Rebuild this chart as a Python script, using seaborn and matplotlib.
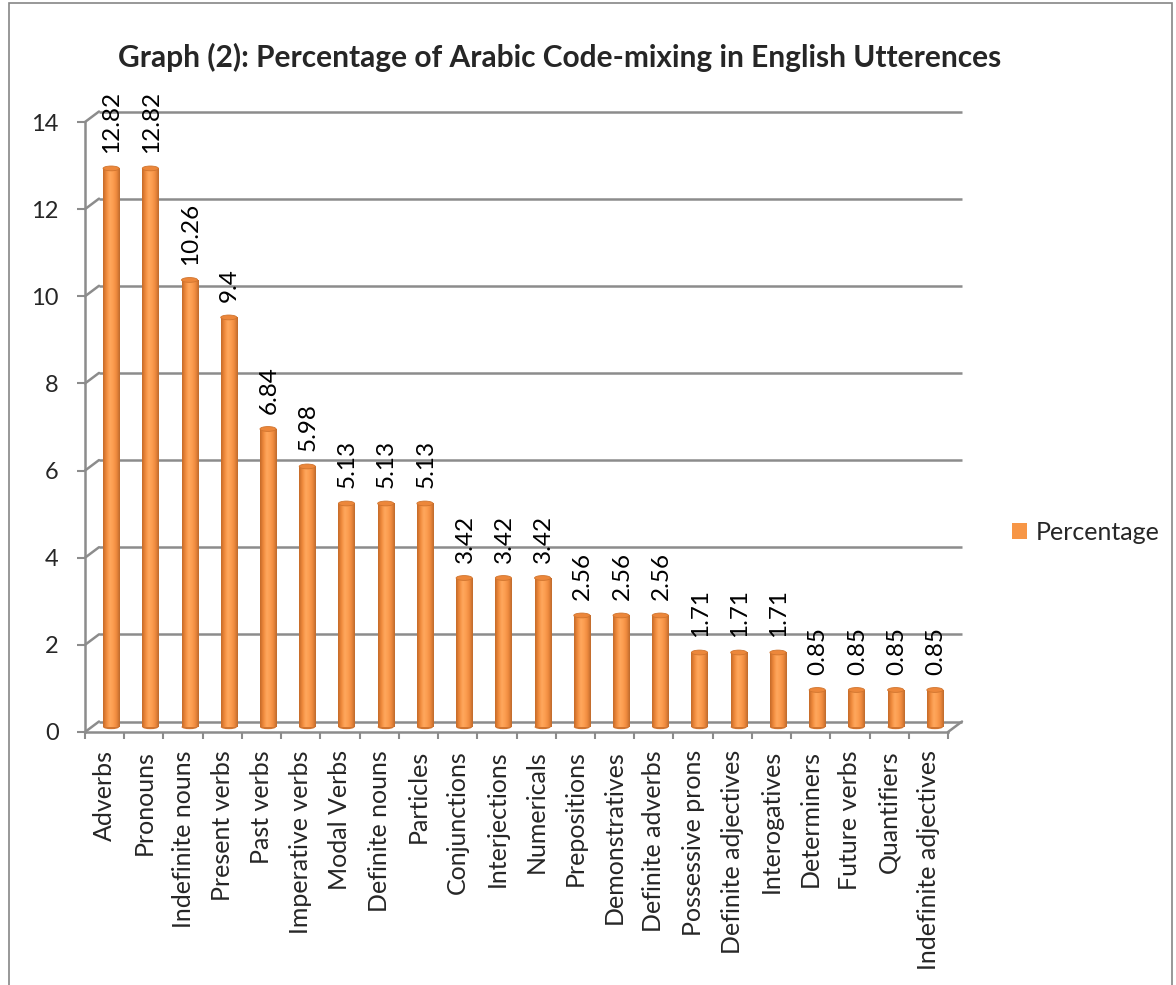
import matplotlib
matplotlib.use("Agg")
import matplotlib.pyplot as plt
import seaborn as sns
import numpy as np
import pandas as pd
from matplotlib.patches import Rectangle, Ellipse
from matplotlib.colors import LinearSegmentedColormap
from matplotlib.transforms import ScaledTranslation

categories = ["Adverbs", "Pronouns", "Indefinite nouns", "Present verbs", "Past verbs",
              "Imperative verbs", "Modal Verbs", "Definite nouns", "Particles", "Conjunctions",
              "Interjections", "Numericals", "Prepositions", "Demonstratives", "Definite adverbs",
              "Possessive prons", "Definite adjectives", "Interogatives", "Determiners",
              "Future verbs", "Quantifiers", "Indefinite adjectives"]
values = [12.82, 12.82, 10.26, 9.4, 6.84, 5.98, 5.13, 5.13, 5.13, 3.42, 3.42, 3.42,
          2.56, 2.56, 2.56, 1.71, 1.71, 1.71, 0.85, 0.85, 0.85, 0.85]
value_labels = ["12.82", "12.82", "10.26", "9.4", "6.84", "5.98", "5.13", "5.13", "5.13",
                "3.42", "3.42", "3.42", "2.56", "2.56", "2.56", "1.71", "1.71", "1.71",
                "0.85", "0.85", "0.85", "0.85"]
yticks = [0, 2, 4, 6, 8, 10, 12, 14]
series_name = "Percentage"
title = "Graph (2): Percentage of Arabic Code-mixing in English Utterences"

sns.set_theme(style="white")
plt.rcParams['font.family'] = ['Lato', 'DejaVu Sans']

df = pd.DataFrame({"cat": categories, "val": values})

DPI = 100
fig = plt.figure(figsize=(11.76, 9.85), dpi=DPI)
ax = fig.add_axes([85 / 1176, 1 - 732 / 985, 863 / 1176, 610 / 985])

grid_c = "#8C8C8C"
orange = "#F79646"
sns.barplot(data=df, x="cat", y="val", color=orange, width=0.41, ax=ax,
            saturation=1, label=series_name, linewidth=0, zorder=3)

# 3D depth offsets (pixels)
bar_off = ScaledTranslation(6.5 / DPI, 5 / DPI, fig.dpi_scale_trans)
wall_off = ScaledTranslation(14 / DPI, 10.5 / DPI, fig.dpi_scale_trans)

# cylinder-like shading
cmap = LinearSegmentedColormap.from_list(
    "cyl", ["#C46A28", "#F08A3C", "#FFA85E", "#FC9D50", "#EE8A3E", "#BE6A2C"])
grad = np.linspace(0, 1, 64).reshape(1, -1)
for p in list(ax.patches):
    x0, y0 = p.get_x(), p.get_y()
    w, h = p.get_width(), p.get_height()
    p.set_transform(ax.transData + bar_off)
    im = ax.imshow(grad, cmap=cmap, aspect="auto", extent=[x0, x0 + w, y0, y0 + h],
                   zorder=3.5, interpolation="bicubic")
    im.set_transform(ax.transData + bar_off)
    im.set_clip_path(p)
    cap = Ellipse((x0 + w / 2, y0 + h), w, 0.11, facecolor="#EC873B",
                  edgecolor="#D0742E", lw=0.6, zorder=4)
    cap.set_transform(ax.transData + bar_off)
    ax.add_patch(cap)
    base = Ellipse((x0 + w / 2, y0), w, 0.1, facecolor="#D07430", lw=0, zorder=3.4)
    base.set_transform(ax.transData + bar_off)
    ax.add_patch(base)

ax.set_xlim(-0.5, len(categories) - 0.5)
ax.set_ylim(0, 14)
ax.set_yticks(yticks)
ax.set_yticklabels([str(t) for t in yticks], fontsize=17)
ax.set_xticks(range(len(categories)))
ax.set_xticklabels(categories, rotation=90, fontsize=18)
ax.set_xlabel("")
ax.set_ylabel("")

# back-wall gridlines and connectors
for t in yticks:
    ax.plot([0, 1], [t, t], color=grid_c, lw=1.8, zorder=1, clip_on=False,
            solid_capstyle="butt", transform=ax.get_yaxis_transform() + wall_off)
    ax.annotate("", xy=(0, t), xycoords=ax.get_yaxis_transform(),
                xytext=(14 * 72 / DPI, 10.5 * 72 / DPI), textcoords="offset points",
                arrowprops=dict(arrowstyle="-", color=grid_c, lw=1.8,
                                shrinkA=0, shrinkB=0), zorder=1)
ax.annotate("", xy=(1, 0), xycoords=ax.get_yaxis_transform(),
            xytext=(14 * 72 / DPI, 10.5 * 72 / DPI), textcoords="offset points",
            arrowprops=dict(arrowstyle="-", color=grid_c, lw=1.8, shrinkA=0, shrinkB=0),
            zorder=1)

for sp in ["top", "right"]:
    ax.spines[sp].set_visible(False)
for sp in ["left", "bottom"]:
    ax.spines[sp].set_color(grid_c)
    ax.spines[sp].set_linewidth(1.8)
ax.patch.set_alpha(0)

ax.tick_params(axis="y", which="both", left=True, length=6, color=grid_c, width=1.5, pad=13)
ax.set_xticks(np.arange(-0.5, len(categories), 1.0), minor=True)
ax.tick_params(axis="x", which="major", length=0, pad=13)
ax.tick_params(axis="x", which="minor", bottom=True, length=5, color=grid_c, width=1.5)

for i, (v, lab) in enumerate(zip(values, value_labels)):
    ax.annotate(lab, (i, v), xytext=(5.3, 14.5), textcoords="offset points",
                rotation=90, ha="center", va="bottom", fontsize=17.5, color="black")

fig.text(560 / 1176, 1 - 57 / 985, title, fontsize=21.5, fontweight="bold",
         ha="center", va="center")

leg = ax.legend(loc="center left", bbox_to_anchor=(1012 / 1176, 1 - 532 / 985),
                bbox_transform=fig.transFigure, frameon=False,
                fontsize=18, handlelength=0.6, handleheight=0.6, handletextpad=0.35,
                borderpad=0, borderaxespad=0)

fig.patches.append(Rectangle((0.008, -0.01), 0.989, 1.007, transform=fig.transFigure,
                             fill=False, edgecolor="#868686", lw=1.2))

fig.savefig("out.png", dpi=DPI)
